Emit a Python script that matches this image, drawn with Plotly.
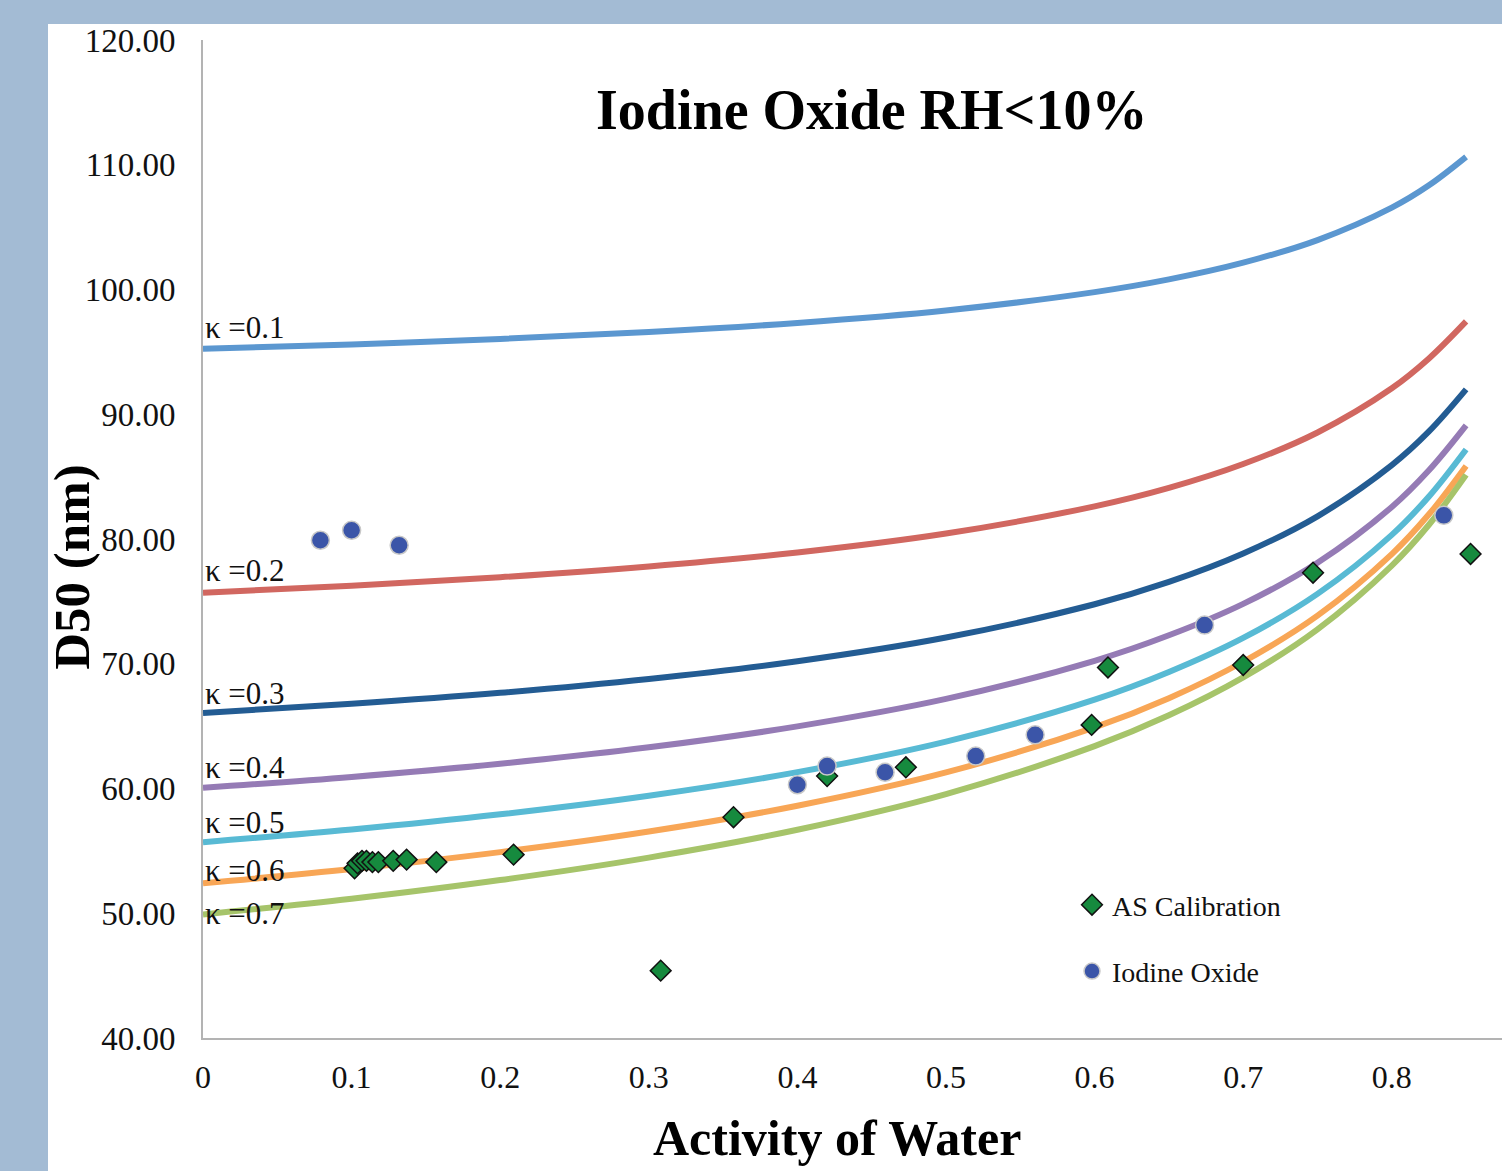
import plotly.graph_objects as go

# ---- data ----
aw_grid = [0.0, 0.1, 0.2, 0.3, 0.4, 0.5, 0.6, 0.65, 0.7, 0.75, 0.8, 0.825, 0.85]

kappa_labels = ["κ =0.1", "κ =0.2", "κ =0.3", "κ =0.4", "κ =0.5", "κ =0.6", "κ =0.7"]
k01 = [95.25, 95.60, 96.04, 96.59, 97.32, 98.32, 99.79, 100.81, 102.15, 103.96, 106.56, 108.35, 110.63]
k02 = [75.70, 76.26, 76.94, 77.80, 78.92, 80.44, 82.62, 84.10, 86.01, 88.54, 92.08, 94.47, 97.44]
k03 = [66.06, 66.79, 67.67, 68.78, 70.20, 72.10, 74.77, 76.56, 78.84, 81.82, 85.92, 88.62, 91.99]
k04 = [60.05, 60.93, 61.99, 63.30, 64.98, 67.18, 70.24, 72.28, 74.80, 78.10, 82.57, 85.51, 89.11]
k05 = [55.70, 56.71, 57.93, 59.42, 61.31, 63.76, 67.12, 69.34, 72.07, 75.60, 80.33, 83.41, 87.18]
k06 = [52.40, 53.54, 54.90, 56.55, 58.62, 61.29, 64.90, 67.24, 70.16, 73.86, 78.79, 81.98, 85.86]
k07 = [49.90, 51.16, 52.66, 54.46, 56.69, 59.55, 63.40, 65.87, 68.91, 72.76, 77.87, 81.14, 85.14]

as_x = [0.102, 0.104, 0.107, 0.110, 0.114, 0.118, 0.128, 0.137, 0.157, 0.209, 0.308,
        0.357, 0.420, 0.473, 0.598, 0.609, 0.700, 0.747, 0.853]
as_y = [53.6, 54.0, 54.2, 54.2, 54.1, 54.1, 54.2, 54.3, 54.1, 54.7, 45.4,
        57.7, 61.0, 61.7, 65.1, 69.7, 69.9, 77.3, 78.8]

io_x = [0.079, 0.100, 0.132, 0.400, 0.420, 0.459, 0.520, 0.560, 0.674, 0.835]
io_y = [79.9, 80.7, 79.5, 60.3, 61.8, 61.3, 62.6, 64.3, 73.1, 81.9]

x_tickvals = [0, 0.1, 0.2, 0.3, 0.4, 0.5, 0.6, 0.7, 0.8]
x_ticktext = ["0", "0.1", "0.2", "0.3", "0.4", "0.5", "0.6", "0.7", "0.8"]
y_tickvals = [40, 50, 60, 70, 80, 90, 100, 110, 120]
y_ticktext = ["40.00", "50.00", "60.00", "70.00", "80.00", "90.00", "100.00", "110.00", "120.00"]

# ---- styles ----
curves = [k01, k02, k03, k04, k05, k06, k07]
curve_colors = ["#5b97d0", "#d16760", "#235c93", "#957bb5", "#58bad4", "#f8a656", "#a6c46a"]
label_shift = [21, 22, 19, 20, 20, 13, 1]
SERIF = "Liberation Serif, Times New Roman, serif"

fig = go.Figure()

for ys, col in zip(curves, curve_colors):
    fig.add_trace(go.Scatter(x=aw_grid, y=ys, mode="lines",
                             line=dict(color=col, width=6, shape="spline", smoothing=1.0),
                             showlegend=False, hoverinfo="skip"))

fig.add_trace(go.Scatter(x=as_x, y=as_y, mode="markers", name="AS Calibration",
                         legendgroup="a",
                         marker=dict(symbol="diamond", size=16, color="#168a3e",
                                     line=dict(color="#111111", width=1.5))))
fig.add_trace(go.Scatter(x=io_x, y=io_y, mode="markers", name="Iodine Oxide",
                         legendgroup="b",
                         marker=dict(symbol="circle", size=18, color="#3b55a8",
                                     line=dict(color="#c8c8c8", width=1.5))))

annotations = []
for lab, ys, sh in zip(kappa_labels, curves, label_shift):
    annotations.append(dict(x=0, y=ys[0], xref="x", yref="y", text=lab, showarrow=False,
                            xanchor="left", yanchor="middle", xshift=0, yshift=sh,
                            font=dict(family=SERIF, size=31, color="#111111")))

annotations.append(dict(x=0.515, y=0.93, xref="paper", yref="paper",
                        text="<b>Iodine Oxide RH&lt;10%</b>", showarrow=False,
                        xanchor="center", yanchor="middle",
                        font=dict(family=SERIF, size=56, color="#000000")))
annotations.append(dict(x=0.488, y=-0.1002, xref="paper", yref="paper",
                        text="<b>Activity of Water</b>", showarrow=False,
                        xanchor="center", yanchor="middle",
                        font=dict(family=SERIF, size=50, color="#000000")))
annotations.append(dict(x=-0.101, y=0.472, xref="paper", yref="paper",
                        text="<b>D50 (nm)</b>", showarrow=False, textangle=-90,
                        xanchor="center", yanchor="middle",
                        font=dict(family=SERIF, size=51, color="#000000")))

W, H = 1502, 1171
L, R, T, B = 203, 0, 40, 133
pw, ph = W - L - R, H - T - B

shapes = [dict(type="rect", xref="paper", yref="paper", layer="below",
               x0=(48 - L) / pw, x1=1.05, y0=-(B + 10) / ph, y1=(H - B - 24) / ph,
               fillcolor="white", line=dict(width=0))]

fig.update_layout(
    width=W, height=H,
    margin=dict(l=L, r=R, t=T, b=B),
    paper_bgcolor="#a3bbd4",
    plot_bgcolor="white",
    shapes=shapes,
    annotations=annotations,
    showlegend=True,
    legend=dict(x=(1072 - L) / pw, y=(H - B - 880) / ph, xanchor="left", yanchor="top",
                bgcolor="rgba(0,0,0,0)", font=dict(family=SERIF, size=28, color="#111111"),
                tracegroupgap=27),
    xaxis=dict(range=[0, (W - L) / 1486.0], tickvals=x_tickvals, ticktext=x_ticktext,
               showgrid=False, zeroline=False, showline=True, linecolor="#b3b3b3", linewidth=2,
               ticks="", ticklabelstandoff=10,
               tickfont=dict(family=SERIF, size=32, color="#111111")),
    yaxis=dict(range=[40, 120], tickvals=y_tickvals, ticktext=y_ticktext,
               showgrid=False, zeroline=False, showline=True, linecolor="#b3b3b3", linewidth=2,
               ticks="", ticklabelstandoff=19,
               tickfont=dict(family=SERIF, size=33, color="#111111")),
)

fig.write_html("out.html", config={"displayModeBar": False},
               post_script="document.body.style.margin='0';document.body.style.padding='0';")
